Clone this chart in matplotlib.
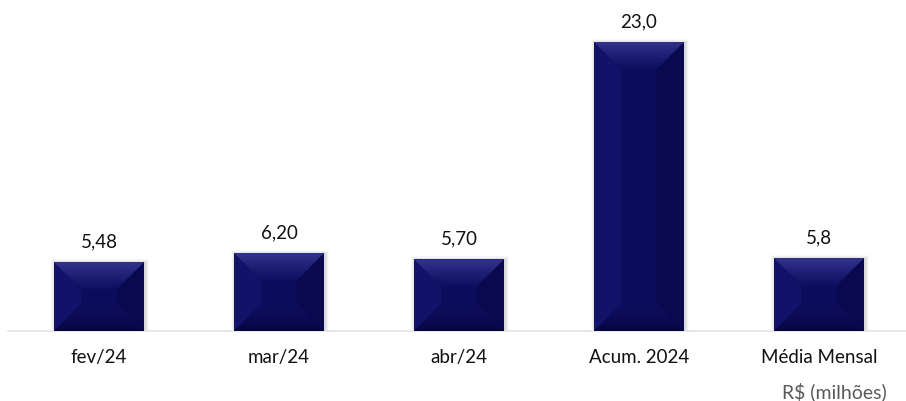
import matplotlib
matplotlib.use("Agg")
import matplotlib.pyplot as plt
from matplotlib.patches import Polygon, Rectangle
from matplotlib.colors import LinearSegmentedColormap
import numpy as np

categories = ["fev/24", "mar/24", "abr/24", "Acum. 2024", "Média Mensal"]
values = [5.48, 6.20, 5.70, 23.0, 5.8]
value_labels = ["5,48", "6,20", "5,70", "23,0", "5,8"]
unit_label = "R$ (milhões)"

plt.rcParams['font.family'] = ['Lato', 'DejaVu Sans']

W, H = 906, 401
fig = plt.figure(figsize=(W / 100, H / 100), dpi=100)
ax_left = 8 / W
ax_bottom = 1 - 331 / H
ax_h = (1 - 42 / H - ax_bottom) * 25 / 23
ax = fig.add_axes([ax_left, ax_bottom, 1 - ax_left, ax_h])

x = np.arange(len(categories))
x_left = -(99 - 8) / 180
x_right = len(categories) - 1 + (906 - 819) / 180
ax.set_xlim(x_left, x_right)
ax.set_ylim(0, 25)

face = "#0C0C5C"
bars = ax.bar(x, values, width=0.5, color=face, zorder=3)

for s in ["top", "left", "right"]:
    ax.spines[s].set_visible(False)
ax.spines["bottom"].set_color("#e4e4e4")
ax.spines["bottom"].set_linewidth(1.2)
ax.set_yticks([])
ax.set_xticks(x)
ax.set_xticklabels(categories, fontsize=13.5, color="#111111")
ax.tick_params(axis="x", length=0, pad=13)

fig.canvas.draw()
to_disp = ax.transData
to_data = ax.transData.inverted()

top_cmap = LinearSegmentedColormap.from_list("t", ["#0E0E60", "#1E1E74", "#34348E"])
bot_cmap = LinearSegmentedColormap.from_list("b", ["#06063F", "#0B0B55", "#0E0E5E"])
left_c, right_c = "#121268", "#09094F"

for b in bars:
    bx0, by0 = b.get_x(), 0
    bx1, by1 = b.get_x() + b.get_width(), b.get_height()
    (X0, Y0), (X1, Y1) = to_disp.transform([(bx0, by0), (bx1, by1)])
    # soft shadow
    for k, a in [(4, 0.03), (3, 0.05), (2, 0.07), (1, 0.09)]:
        pts = to_data.transform([(X0 - k + 1, Y0), (X1 + k + 1, Y1 + k - 1)])
        ax.add_patch(Rectangle(pts[0], pts[1][0] - pts[0][0], pts[1][1] - pts[0][1],
                               facecolor="#555555", alpha=a, edgecolor="none", zorder=2))
    d = min(28, (X1 - X0) / 2, (Y1 - Y0) / 2) - 0.5
    polys = {
        "left": (left_c, [(X0, Y0), (X0, Y1), (X0 + d, Y1 - d), (X0 + d, Y0 + d)]),
        "right": (right_c, [(X1, Y0), (X1, Y1), (X1 - d, Y1 - d), (X1 - d, Y0 + d)]),
    }
    for name, (c, p) in polys.items():
        ax.add_patch(Polygon(to_data.transform(p), closed=True, facecolor=c,
                             edgecolor="none", zorder=4))
    # gradient top bevel
    tp = Polygon(to_data.transform([(X0, Y1), (X1, Y1), (X1 - d, Y1 - d), (X0 + d, Y1 - d)]),
                 closed=True, facecolor="none", edgecolor="none")
    ax.add_patch(tp)
    (dx0, dy0), (dx1, dy1) = to_data.transform([(X0, Y1 - d), (X1, Y1)])
    im = ax.imshow(np.linspace(0, 1, 64).reshape(-1, 1), cmap=top_cmap, aspect="auto",
                   extent=(dx0, dx1, dy0, dy1), origin="lower", zorder=4,
                   interpolation="bilinear")
    im.set_clip_path(tp)
    # gradient bottom bevel
    bp = Polygon(to_data.transform([(X0, Y0), (X1, Y0), (X1 - d, Y0 + d), (X0 + d, Y0 + d)]),
                 closed=True, facecolor="none", edgecolor="none")
    ax.add_patch(bp)
    (ex0, ey0), (ex1, ey1) = to_data.transform([(X0, Y0), (X1, Y0 + d)])
    im2 = ax.imshow(np.linspace(0, 1, 64).reshape(-1, 1), cmap=bot_cmap, aspect="auto",
                    extent=(ex0, ex1, ey0, ey1), origin="lower", zorder=4,
                    interpolation="bilinear")
    im2.set_clip_path(bp)

ax.set_xlim(x_left, x_right)
ax.set_ylim(0, 25)

for xi, v, lab in zip(x, values, value_labels):
    ax.annotate(lab, (xi, v), xytext=(0, 10.8), textcoords="offset points",
                ha="center", va="baseline", fontsize=13.5, color="#111111", zorder=5)

fig.text(887 / W, 1 - 392 / H, unit_label, ha="right", va="center",
         fontsize=14, color="#595959")

fig.savefig("out.png", dpi=100, facecolor="white")
